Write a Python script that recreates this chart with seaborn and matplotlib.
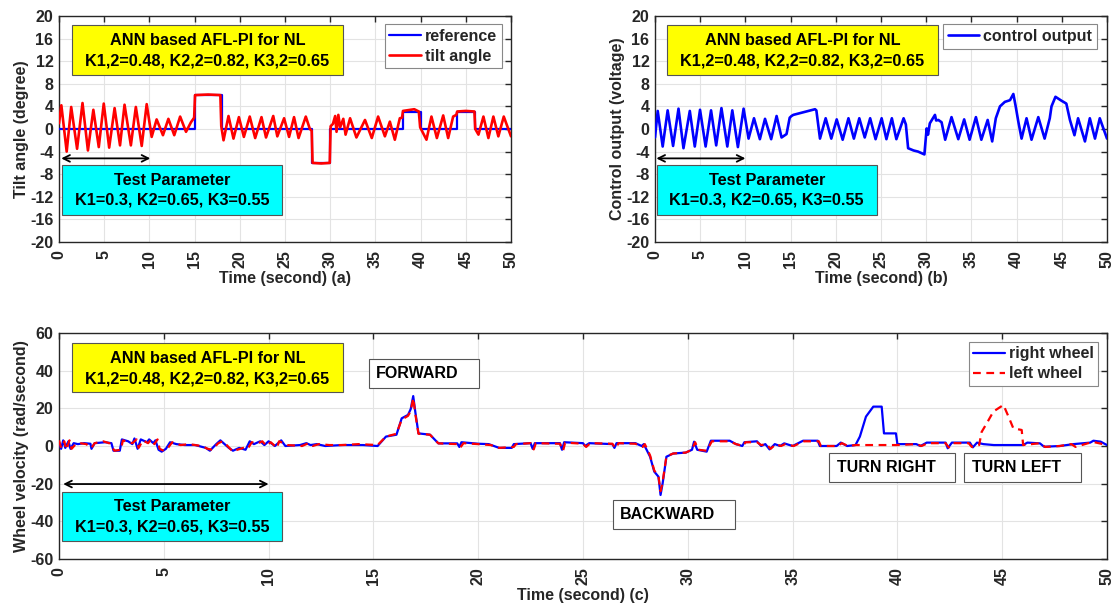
import matplotlib
matplotlib.use("Agg")
import matplotlib.pyplot as plt
import matplotlib.patches as mpatches
import seaborn as sns
import numpy as np

# ---------------- data ----------------
xticks = [0, 5, 10, 15, 20, 25, 30, 35, 40, 45, 50]
yticks_top = [-20, -16, -12, -8, -4, 0, 4, 8, 12, 16, 20]
yticks_bot = [-60, -40, -20, 0, 20, 40, 60]

# (a) reference tilt (degree)
ref_t = [0, 15, 15, 18, 18, 28, 28, 30, 30, 38, 38, 40, 40, 44, 44, 46, 46, 50]
ref_v = [0, 0, 6, 6, 0, 0, -6, -6, 0, 0, 3, 3, 0, 0, 3, 3, 0, 0]

# (a) measured tilt angle (degree)
tilt_t = [0, 0.26, 0.85, 1.35, 2.0, 2.6, 3.2, 3.8, 4.4, 4.95, 5.55, 6.15, 6.75, 7.25,
          7.95, 8.5, 9.15, 9.7, 10.25, 10.8, 11.5, 12.1, 12.75, 13.4, 14.05, 14.6,
          14.95, 15.05, 16.5, 17.85, 17.95, 18.2, 18.75, 19.3, 19.9, 20.45, 21.1,
          21.7, 22.4, 22.9, 23.7, 24.15, 24.9, 25.45, 26.0, 26.5, 27.3, 27.75, 27.95,
          28.05, 29.0, 29.95, 30.05, 30.3, 30.55, 30.7, 30.9, 31.1, 31.45, 31.7, 32.2,
          32.9, 33.85, 34.6, 35.3, 36.05, 36.6, 37.15, 37.7, 37.95, 38.05, 39.3, 39.8,
          39.95, 40.65, 41.2, 41.8, 42.5, 43.05, 43.6, 43.95, 44.05, 45.0, 45.95,
          46.05, 46.4, 46.95, 47.5, 48.05, 48.6, 49.2, 50.0]
tilt_v = [1.0, 4.2, -4.0, 3.9, -3.5, 4.6, -3.8, 3.4, -3.2, 4.5, -3.3, 3.7, -2.9, 4.3,
          -2.9, 3.9, -3.0, 4.4, -1.4, 1.7, -1.1, 1.8, -1.1, 2.2, -0.5, 1.2,
          2.0, 6.0, 6.1, 6.0, 0.5, -2.0, 2.3, -1.7, 2.1, -1.4, 2.2,
          -1.6, 2.1, -1.5, 2.3, -1.3, 1.9, -1.4, 2.1, -1.6, 2.2, 0.0, -0.3,
          -6.0, -6.1, -6.0, 0.5, 0.9, 2.3, -0.5, 2.5, 0.3, 1.8, -1.0, 1.9,
          -1.5, 1.6, -1.6, 2.2, -1.3, 1.3, -1.9, 1.9, 2.0, 3.2, 3.5, 3.1,
          0.3, -1.9, 2.2, -1.6, 2.4, -1.6, 2.2, 2.5, 3.1, 3.2, 3.1,
          0.0, -1.0, 2.2, -1.6, 2.2, -1.3, 2.2, -1.3]

# (b) control output (voltage)
ctrl_t = [0, 0.3, 0.85, 1.4, 2.0, 2.6, 3.15, 3.85, 4.4, 4.98, 5.6, 6.2, 6.77, 7.35,
          8.0, 8.55, 9.17, 9.8, 10.35, 10.95, 11.6, 12.17, 12.85, 13.45, 14.0, 14.55,
          14.9, 15.1, 15.3, 17.7, 17.85, 18.25, 18.88, 19.5, 20.1, 20.76, 21.4, 22.0,
          22.6, 23.2, 23.8, 24.4, 25.07, 25.6, 26.2, 26.7, 27.5, 27.75, 28.0, 28.6,
          29.1, 29.8, 30.05, 30.2, 30.4, 30.97, 31.1, 31.34, 31.7, 32.1, 32.8, 33.55,
          34.2, 34.8, 35.5, 36.1, 36.8, 37.3, 37.7, 38.16, 38.7, 39.27, 39.64, 39.9,
          40.19, 40.55, 41.1, 41.65, 42.4, 43.1, 43.67, 43.86, 44.3, 44.97, 45.5,
          45.9, 46.4, 46.8, 47.56, 48.1, 48.67, 49.2, 50.0]
ctrl_v = [-1.5, 3.2, -3.1, 3.3, -3.0, 3.6, -3.4, 3.2, -3.1, 3.4, -3.1, 3.3, -2.9, 3.7,
          -3.1, 3.3, -3.2, 3.6, -1.7, 1.9, -1.8, 1.8, -1.8, 2.3, -1.5, -0.9,
          2.0, 2.3, 2.5, 3.5, 3.3, -1.7, 1.9, -1.7, 1.7, -1.9, 1.9, -1.7,
          1.9, -1.5, 1.9, -1.8, 1.9, -1.8, 1.9, -1.8, 1.9, 0.8, -3.4, -3.8,
          -4.0, -4.5, 0.1, -1.0, 1.0, 2.5, 1.5, 1.6, 1.2, -1.9, 2.1, -1.8,
          1.7, -1.9, 2.1, -1.9, 1.6, -2.2, 1.9, 4.0, 4.8, 5.1, 6.2, 4.0,
          1.3, -1.7, 1.9, -1.9, 2.1, -1.7, 1.9, 4.0, 5.7, 5.0, 4.5,
          1.6, -1.1, 1.9, -2.2, 1.9, -1.7, 1.9, -1.7]

# (c) right wheel velocity (rad/second)
right_t = [0, 0.1, 0.2, 0.3, 0.45, 0.55, 0.7, 0.9, 1.2, 1.5, 1.55, 1.7, 2.2, 2.5,
           2.6, 2.9, 3.0, 3.3, 3.5, 3.6, 3.75, 3.9, 4.2, 4.3, 4.5, 4.6, 4.75, 4.9,
           5.1, 5.3, 5.6, 6.0, 6.5, 7.0, 7.2, 7.5, 7.7, 7.9, 8.1, 8.3, 8.6, 8.9,
           9.1, 9.3, 9.6, 9.8, 10.0, 10.3, 10.6, 10.8, 11.5, 11.8, 12.0, 12.3, 12.7,
           13.5, 14.5, 15.2, 15.6, 16.1, 16.35, 16.65, 16.78, 16.9, 17.0, 17.15,
           17.7, 18.1, 19.0, 19.1, 19.2, 20.0, 20.5, 21.0, 21.6, 21.7, 22.5, 22.6,
           22.7, 23.9, 24.0, 24.1, 25.0, 25.1, 25.3, 26.4, 26.5, 26.6, 27.5, 27.8,
           27.9, 28.2, 28.4, 28.6, 28.7, 28.8, 28.98, 29.3, 29.9, 30.2, 30.3, 30.45,
           30.9, 31.1, 32.0, 32.3, 32.6, 32.7, 33.3, 33.5, 33.7, 33.9, 34.15, 34.4,
           34.6, 35.0, 35.5, 36.2, 36.3, 37.1, 37.3, 37.6, 38.0, 38.21, 38.5, 38.85,
           39.25, 39.36, 39.93, 40.0, 40.9, 41.1, 41.4, 42.3, 42.4, 42.6, 43.46,
           43.6, 43.8, 44.1, 44.6, 46.0, 46.2, 46.8, 47.0, 47.75, 48.4, 49.2, 49.35,
           49.7, 50.0]
right_v = [2, -1.5, 3, -1, 2.5, -1.5, 1.5, 1.0, 1.5, 1.2, -1.5, 1.5, 2.0, 1.5,
           -2.5, -2.5, 3.5, 2.5, 1.0, 4.0, -1.5, 3.5, 2.0, 3.5, 1.5, 3.0, -2.0, -3.0,
           -1.5, 2.0, 1.0, 0.5, 0.5, -1.0, -2.5, 1.0, 3.0, 1.0, -1.0, -2.5, -1.0, -2.0,
           2.5, 1.0, 2.5, 0.5, 2.5, 0.0, 3.0, 0.0, 0.5, 1.5, 0.5, 1.0, 0.0,
           0.5, 0.5, 0.0, 5.0, 6.0, 14.7, 16.5, 19.6, 26.5, 18.0, 6.7,
           6.0, 1.4, 1.4, -0.5, 2.0, 1.2, 1.0, -1.0, -1.0, 1.0, 1.5, -1.5,
           1.5, 1.5, -2.0, 2.0, 1.5, 0.0, 1.5, 1.0, -1.0, 1.5, 1.5, 0.0,
           1.0, -5.7, -13.6, -16.3, -26.0, -19.8, -5.7, -4.0, -3.5, -2.0, 2.3, -2.0,
           -3.0, 2.8, 2.8, 1.0, 0.0, 2.0, 2.5, 0.0, 1.0, -1.8, 1.0, 0.0,
           1.4, 0.0, 2.8, 2.8, 0.0, 0.0, 1.8, 0.0, 0.5, 5.0, 15.6, 20.9,
           20.9, 6.7, 6.7, 1.0, 1.0, 0.0, 1.8, 1.8, -1.2, 1.8, 1.8,
           -0.7, 1.8, 1.0, 0.5, 0.5, 1.8, 1.4, -0.4, 0.0, 1.0, 1.8, 2.8,
           2.3, 0.5]

# (c) left wheel velocity (rad/second)
left_t = [0, 0.1, 0.25, 0.35, 0.5, 0.6, 0.8, 1.0, 1.3, 1.55, 1.7, 2.1, 2.4, 2.65,
          2.95, 3.05, 3.3, 3.5, 3.7, 3.8, 4.0, 4.25, 4.4, 4.55, 4.7, 4.8, 5.0, 5.2,
          5.4, 5.8, 6.2, 6.8, 7.1, 7.3, 7.6, 7.8, 8.0, 8.3, 8.5, 8.8, 9.0, 9.2, 9.5,
          9.7, 9.9, 10.1, 10.4, 10.5, 10.9, 11.6, 11.9, 12.1, 12.4, 12.9, 13.5, 14.3,
          15.2, 15.6, 16.1, 16.35, 16.65, 16.78, 16.9, 17.0, 17.15, 17.7, 18.1, 19.0,
          19.15, 19.3, 20.0, 20.6, 21.0, 21.7, 21.8, 22.5, 22.65, 22.75, 23.9, 24.05,
          24.15, 25.0, 25.15, 25.35, 26.4, 26.55, 26.7, 27.5, 27.85, 27.95, 28.2,
          28.4, 28.6, 28.7, 28.8, 28.98, 29.3, 29.9, 30.2, 30.35, 30.5, 30.9, 31.15,
          32.0, 32.3, 32.65, 32.75, 33.3, 33.5, 33.75, 33.95, 34.2, 34.45, 34.65,
          35.05, 35.55, 36.25, 36.35, 37.15, 37.35, 37.65, 38.0, 40.0, 40.9, 41.15,
          41.45, 42.3, 42.45, 42.65, 43.4, 43.55, 43.9, 44.02, 44.26, 44.58, 45.06,
          45.3, 45.53, 45.93, 46.0, 46.8, 47.05, 47.75, 48.3, 48.5, 49.1, 49.4,
          49.8, 50.0]
left_v = [3, -1, 2.5, -2, 3, -1.5, 1.0, 1.5, 1.0, -1.0, 1.5, 2.5, 1.5, -2.5,
          -2.0, 3.0, 2.0, 1.5, 3.5, -1.0, 3.0, 1.5, 3.5, 1.0, 3.5, -1.5, -2.5, -1.0,
          2.0, 0.5, 1.0, 0.0, -1.5, -2.0, 1.5, 2.5, 0.5, -3.0, -2.0, -1.0, -1.5, 2.0, 1.5,
          2.5, 0.0, 2.0, -1.0, 2.5, 0.5, 0.0, 1.5, 0.0, 1.0, 0.5, 0.5, 1.0,
          0.5, 5.0, 6.5, 14.0, 16.0, 18.5, 25.5, 17.0, 6.5, 6.0, 1.4, 1.0,
          -0.8, 1.5, 1.0, 0.5, -1.0, -0.5, 1.0, 1.5, -1.8, 1.5, 1.2, -2.5,
          1.8, 1.2, -0.5, 1.5, 1.2, -1.2, 1.5, 1.2, -0.5, 1.0, -5.0,
          -13.0, -16.0, -24.0, -19.0, -5.5, -4.0, -3.5, -2.0, 2.0, -2.0, -2.5, 2.5,
          2.5, 1.0, 0.0, 2.0, 2.0, 0.5, 1.0, -1.5, 1.0, 0.0, 1.0,
          0.0, 2.5, 2.5, 0.0, 0.0, 1.5, 0.0, 0.5, 0.5, 1.0, 0.0,
          1.5, 1.5, -0.8, 1.5, 1.5, -0.5, 0.5, 7.5, 12.0, 18.3, 21.8,
          15.6, 9.4, 8.5, 0.5, 1.5, -0.5, 0.0, 1.0, -0.5, 1.5, 2.0,
          1.0, 0.0]

# ---------------- style ----------------
sns.set_style("white")
plt.rcParams["font.family"] = ["Liberation Sans", "DejaVu Sans"]
plt.rcParams["font.weight"] = "bold"
plt.rcParams["axes.labelweight"] = "bold"

FS = 11.5
BLUE = "#0000ff"
RED = "#ff0000"
YELLOW = "#ffff00"
CYAN = "#00ffff"
EDGE = "#555555"

W, H = 1118, 606
fig = plt.figure(figsize=(W / 100, H / 100), dpi=100)


def rect(x0, y0, x1, y1):
    return [x0 / W, 1 - y1 / H, (x1 - x0) / W, (y1 - y0) / H]


ax_a = fig.add_axes(rect(59, 16, 511, 242))
ax_b = fig.add_axes(rect(655, 16, 1107, 242))
ax_c = fig.add_axes(rect(59, 333, 1107, 559))


def style_axes(ax, yticks, xlabel, ylabel):
    ax.set_xlim(0, 50)
    ax.set_ylim(yticks[0], yticks[-1])
    ax.set_xticks(xticks)
    ax.set_yticks(yticks)
    ax.set_xticklabels([str(v) for v in xticks], rotation=90, fontsize=FS,
                       fontweight="bold")
    ax.set_yticklabels([str(v) for v in yticks], fontsize=FS, fontweight="bold")
    ax.tick_params(direction="in", length=4, width=1, top=True, right=True,
                   colors="#262626")
    ax.tick_params(axis="x", pad=6)
    ax.tick_params(axis="y", pad=4)
    ax.grid(True, color="#e3e3e3", linewidth=0.8)
    ax.set_axisbelow(True)
    for s in ax.spines.values():
        s.set_color("#262626")
        s.set_linewidth(1.0)
    ax.set_xlabel(xlabel, fontsize=FS, fontweight="bold", labelpad=2)
    ax.set_ylabel(ylabel, fontsize=FS, fontweight="bold", labelpad=1)


def info_box(ax, x0, y0, x1, y1, color, lines, ys, xc):
    ax.add_patch(mpatches.Rectangle((x0, y0), x1 - x0, y1 - y0,
                                    transform=ax.transAxes, facecolor=color,
                                    edgecolor=EDGE, linewidth=0.8, zorder=4,
                                    clip_on=False))
    for txt, yy in zip(lines, ys):
        ax.text(xc, yy, txt, transform=ax.transAxes, ha="center", va="center",
                fontsize=FS + 0.2, fontweight="bold", color="black", zorder=5)


def label_box(ax, x0, y0, x1, y1, tx, txt):
    ax.add_patch(mpatches.Rectangle((x0, y0), x1 - x0, y1 - y0,
                                    transform=ax.transAxes, facecolor="white",
                                    edgecolor=EDGE, linewidth=0.8, zorder=4))
    ax.text(tx, (y0 + y1) / 2, txt, transform=ax.transAxes, ha="left",
            va="center", fontsize=FS, fontweight="bold", color="black", zorder=5)


yellow_lines = ["ANN based AFL-PI for NL", "K1,2=0.48, K2,2=0.82, K3,2=0.65"]
cyan_lines = ["Test Parameter", "K1=0.3, K2=0.65, K3=0.55"]

# ---------------- (a) ----------------
sns.lineplot(x=ref_t, y=ref_v, ax=ax_a, color=BLUE, linewidth=1.6, sort=False,
             estimator=None, label="reference", zorder=3)
sns.lineplot(x=tilt_t, y=tilt_v, ax=ax_a, color=RED, linewidth=1.9, sort=False,
             estimator=None, label="tilt angle", zorder=3)
style_axes(ax_a, yticks_top, "Time (second) (a)", "Tilt angle (degree)")
info_box(ax_a, 0.0288, 0.739, 0.6283, 0.960, YELLOW, yellow_lines, [0.892, 0.803], 0.3285)
info_box(ax_a, 0.0066, 0.119, 0.4934, 0.341, CYAN, cyan_lines, [0.274, 0.186], 0.25)
ax_a.annotate("", xy=(10.1, -5.2), xytext=(0.25, -5.2),
              arrowprops=dict(arrowstyle="<->", color="black", lw=1.3,
                              shrinkA=0, shrinkB=0, mutation_scale=12), zorder=5)

# ---------------- (b) ----------------
sns.lineplot(x=ctrl_t, y=ctrl_v, ax=ax_b, color=BLUE, linewidth=1.9, sort=False,
             estimator=None, label="control output", zorder=3)
style_axes(ax_b, yticks_top, "Time (second) (b)", "Control output (voltage)")
info_box(ax_b, 0.0259, 0.739, 0.6268, 0.960, YELLOW, yellow_lines, [0.892, 0.803], 0.3263)
info_box(ax_b, 0.0037, 0.119, 0.4904, 0.341, CYAN, cyan_lines, [0.274, 0.186], 0.2471)
ax_b.annotate("", xy=(10.0, -5.2), xytext=(0.15, -5.2),
              arrowprops=dict(arrowstyle="<->", color="black", lw=1.3,
                              shrinkA=0, shrinkB=0, mutation_scale=12), zorder=5)

# ---------------- (c) ----------------
sns.lineplot(x=right_t, y=right_v, ax=ax_c, color=BLUE, linewidth=1.6, sort=False,
             estimator=None, label="right wheel", zorder=3)
sns.lineplot(x=left_t, y=left_v, ax=ax_c, color=RED, linewidth=1.6, sort=False,
             estimator=None, label="left wheel", linestyle=(0, (3.5, 2.5)), zorder=3)
style_axes(ax_c, yticks_bot, "Time (second) (c)", "Wheel velocity (rad/second)")
info_box(ax_c, 0.0124, 0.740, 0.2710, 0.957, YELLOW, yellow_lines, [0.888, 0.795], 0.1417)
info_box(ax_c, 0.0029, 0.081, 0.2125, 0.298, CYAN, cyan_lines, [0.2345, 0.143], 0.1077)
ax_c.annotate("", xy=(10.0, -20.2), xytext=(0.2, -20.2),
              arrowprops=dict(arrowstyle="<->", color="black", lw=1.3,
                              shrinkA=0, shrinkB=0, mutation_scale=12), zorder=5)
label_box(ax_c, 0.2961, 0.7553, 0.4011, 0.8836, 0.3025, "FORWARD")
label_box(ax_c, 0.5289, 0.1327, 0.6450, 0.2611, 0.5353, "BACKWARD")
label_box(ax_c, 0.7350, 0.3394, 0.8550, 0.4677, 0.7421, "TURN RIGHT")
label_box(ax_c, 0.8638, 0.3394, 0.9749, 0.4677, 0.8709, "TURN LEFT")

# ---------------- legends ----------------
def make_legend(ax, anchor):
    leg = ax.legend(loc="upper right", bbox_to_anchor=anchor, borderaxespad=0,
                    fancybox=False, framealpha=1, edgecolor="#888888",
                    prop=dict(size=FS, weight="bold"), handlelength=1.95,
                    handletextpad=0.25, borderpad=0.3, labelspacing=0.3)
    leg.get_frame().set_linewidth(0.8)
    leg.set_zorder(6)
    return leg

make_legend(ax_a, (0.979, 0.9646))
make_legend(ax_b, (0.978, 0.9646))
make_legend(ax_c, (0.9917, 0.9615))

fig.savefig("out.png", dpi=100)
